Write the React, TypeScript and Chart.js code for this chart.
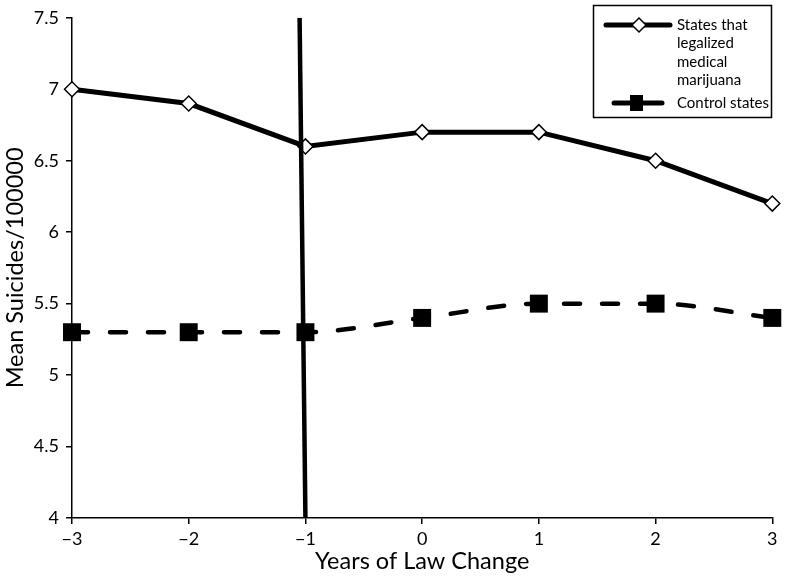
import React, { useEffect, useRef } from 'react';
import { Chart, registerables } from 'chart.js';

Chart.register(...registerables);

const years = [-3, -2, -1, 0, 1, 2, 3];
const legalized = [7.0, 6.9, 6.6, 6.7, 6.7, 6.5, 6.2];
const control = [5.3, 5.3, 5.3, 5.4, 5.5, 5.5, 5.4];
const lawChangeX = [-1.05, -1];
const lawChangeY = [7.5, 4];
const legendLabels = [['States that', 'legalized', 'medical', 'marijuana'], ['Control states']];
const xTitle = 'Years of Law Change';
const yTitle = 'Mean Suicides/100000';

const FONT = "Lato, sans-serif";

const legendPlugin = {
  id: 'customLegend',
  afterDraw(chart: any) {
    const ctx = chart.ctx as CanvasRenderingContext2D;
    ctx.save();
    ctx.strokeStyle = '#000';
    ctx.lineWidth = 1.5;
    ctx.strokeRect(593.5, 5.5, 178, 112);
    // item 1
    ctx.lineWidth = 5;
    ctx.lineCap = 'round';
    ctx.beginPath();
    ctx.moveTo(606, 25);
    ctx.lineTo(670, 25);
    ctx.stroke();
    ctx.beginPath();
    ctx.moveTo(632, 25);
    ctx.lineTo(639, 18);
    ctx.lineTo(646, 25);
    ctx.lineTo(639, 32);
    ctx.closePath();
    ctx.fillStyle = '#fff';
    ctx.fill();
    ctx.lineWidth = 1.5;
    ctx.stroke();
    // item 2
    ctx.lineWidth = 5;
    ctx.beginPath();
    ctx.moveTo(614, 103);
    ctx.lineTo(662, 103);
    ctx.stroke();
    ctx.fillStyle = '#000';
    ctx.fillRect(630, 95, 13, 16);
    // text
    ctx.fillStyle = '#000';
    ctx.font = `15px ${FONT}`;
    ctx.textBaseline = 'middle';
    ctx.textAlign = 'left';
    const ys = [25, 43.5, 62, 80.5];
    legendLabels[0].forEach((t, i) => ctx.fillText(t, 677, ys[i]));
    ctx.fillText(legendLabels[1][0], 677, 103);
    ctx.restore();
  },
};

const fmt = (v: number) => (v < 0 ? '\u2212' + Math.abs(v) : String(v));

export default function App() {
  const ref = useRef<HTMLCanvasElement>(null);
  useEffect(() => {
    if (!ref.current) return;
    const chart = new Chart(ref.current, {
      type: 'line',
      data: {
        datasets: [
          {
            label: 'Law change',
            data: lawChangeX.map((x, i) => ({ x, y: lawChangeY[i] })),
            borderColor: '#000',
            borderWidth: 4.5,
            pointRadius: 0,
            order: 0,
          },
          {
            label: 'States that legalized medical marijuana',
            data: years.map((x, i) => ({ x, y: legalized[i] })),
            borderColor: '#000',
            borderWidth: 5,
            pointStyle: 'rectRot',
            pointRadius: 7.5,
            pointBackgroundColor: '#fff',
            pointBorderColor: '#000',
            pointBorderWidth: 1.5,
            tension: 0,
            clip: false,
            order: 1,
          },
          {
            label: 'Control states',
            data: years.map((x, i) => ({ x, y: control[i] })),
            borderColor: '#000',
            borderWidth: 4.5,
            borderDash: [16, 22],
            borderCapStyle: 'round',
            pointStyle: 'rect',
            pointRadius: 12.7,
            pointBackgroundColor: '#000',
            pointBorderColor: '#000',
            pointBorderWidth: 0,
            cubicInterpolationMode: 'monotone',
            clip: false,
            order: 2,
          },
        ],
      },
      options: {
        animation: false,
        responsive: true,
        maintainAspectRatio: false,
        layout: { padding: { top: 12, right: 11, left: 0, bottom: 0 } },
        plugins: {
          legend: { display: false },
          tooltip: { enabled: false },
        },
        scales: {
          x: {
            type: 'linear',
            min: -3,
            max: 3,
            afterFit: (s: any) => { s.height = 67; },
            ticks: { stepSize: 1, color: '#000', font: { family: FONT, size: 18 }, padding: 4, callback: (v: any) => fmt(Number(v)) },
            grid: { drawOnChartArea: false, drawTicks: true, tickLength: 6, color: '#000', lineWidth: 1.5 },
            border: { display: true, color: '#000', width: 1.5 },
            title: { display: true, text: xTitle, color: '#000', font: { family: FONT, size: 23.5 }, padding: { top: 0, bottom: 9 } },
          },
          y: {
            min: 4,
            max: 7.5,
            afterFit: (s: any) => { s.width = 72; },
            ticks: { stepSize: 0.5, color: '#000', font: { family: FONT, size: 18 }, padding: 7, callback: (v: any) => String(v) },
            grid: { drawOnChartArea: false, drawTicks: true, tickLength: 6, color: '#000', lineWidth: 1.5 },
            border: { display: true, color: '#000', width: 1.5 },
            title: { display: true, text: yTitle, color: '#000', font: { family: FONT, size: 23.5 }, padding: { top: 1, bottom: 0 } },
          },
        },
      },
      plugins: [legendPlugin],
    });
    return () => chart.destroy();
  }, []);
  return (
    <div style={{ position: 'absolute', left: 0, top: 0, width: 785, height: 585, background: '#fff' }}>
      <canvas ref={ref} />
    </div>
  );
}
